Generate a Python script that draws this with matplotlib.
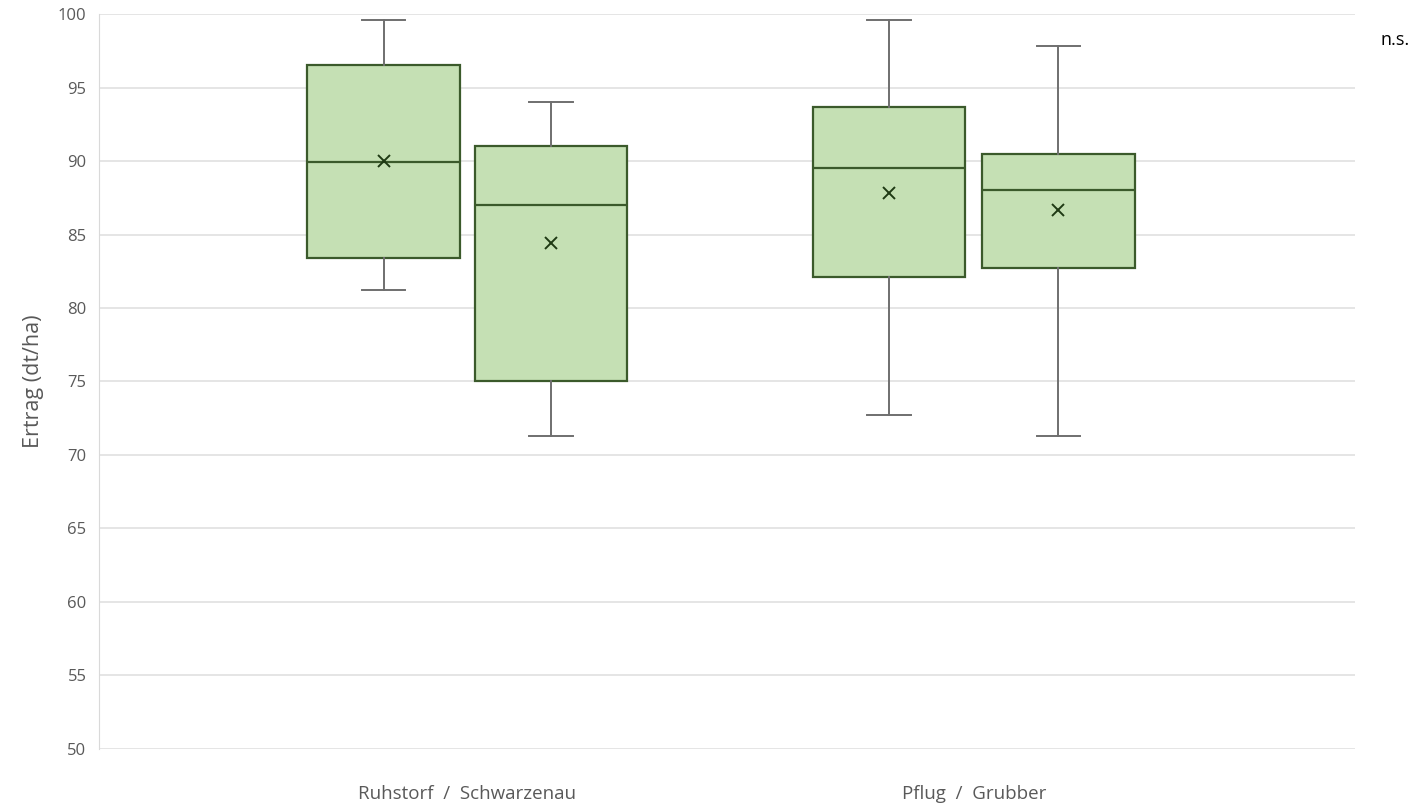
import matplotlib.pyplot as plt

# Ertrag (dt/ha) je Variante
labels = ["Ruhstorf", "Schwarzenau", "Pflug", "Grubber"]
whislo = [81.2, 71.3, 72.7, 71.3]
q1 = [83.4, 75.0, 82.1, 82.7]
med = [89.9, 87.0, 89.5, 88.0]
q3 = [96.5, 91.0, 93.7, 90.5]
whishi = [99.6, 94.0, 99.6, 97.8]
means = [90.0, 84.4, 87.8, 86.7]

group_labels = ["Ruhstorf  /  Schwarzenau", "Pflug  /  Grubber"]
positions = [1.7, 2.7, 4.72, 5.73]

plt.rcParams['font.family'] = ['Open Sans', 'DejaVu Sans']

fig = plt.figure(figsize=(14.26, 8.11), dpi=100)
ax = fig.add_axes([0.0694, 0.0765, 0.8806, 0.9062])

stats = []
for i in range(len(labels)):
    stats.append(dict(label=labels[i], whislo=whislo[i], q1=q1[i], med=med[i],
                      q3=q3[i], whishi=whishi[i], mean=means[i], fliers=[]))

dark = '#3b5a2b'
grey = '#6f6f6f'
ax.bxp(stats, positions=positions, widths=0.91, patch_artist=True, showmeans=True,
       boxprops=dict(facecolor='#c5e0b4', edgecolor=dark, linewidth=1.6),
       medianprops=dict(color=dark, linewidth=1.6),
       whiskerprops=dict(color=grey, linewidth=1.4),
       capprops=dict(color=grey, linewidth=1.4),
       capwidths=0.26,
       meanprops=dict(marker='x', markeredgecolor='#1f3a14', markersize=8, markeredgewidth=1.4),
       zorder=3)

ax.set_xlim(0, 7.5)
ax.set_ylim(50, 100)
ax.set_yticks(range(50, 101, 5))
ax.grid(axis='y', color='#e3e3e3', linewidth=1.3, zorder=0)
ax.set_axisbelow(True)

ax.set_xticks([(positions[0] + positions[1]) / 2, (positions[2] + positions[3]) / 2])
ax.set_xticklabels(group_labels, fontsize=13.5, color='#595959')
ax.tick_params(axis='x', length=0, pad=26)
ax.tick_params(axis='y', length=0, labelsize=12, labelcolor='#595959', pad=9)

for s in ['top', 'right', 'bottom']:
    ax.spines[s].set_visible(False)
ax.spines['left'].set_color('#d9d9d9')

ax.set_ylabel('Ertrag (dt/ha)', fontsize=15.5, color='#595959', labelpad=10)
fig.text(0.978, 0.951, 'n.s.', fontsize=13, color='black', ha='center', va='center')

fig.savefig('out.png', dpi=100)
